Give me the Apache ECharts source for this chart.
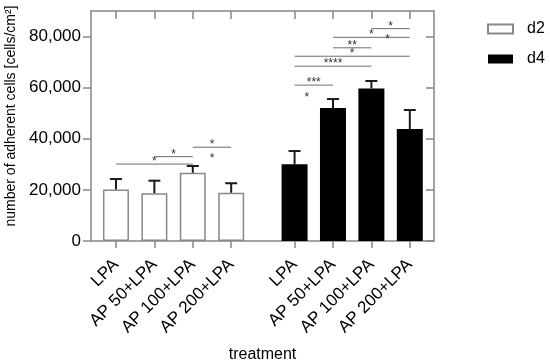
<!DOCTYPE html>
<html><head><meta charset="utf-8">
<script src="https://cdn.jsdelivr.net/npm/echarts@6/dist/echarts.min.js"></script>
<style>html,body{margin:0;padding:0;background:#fff}#c{width:550px;height:363px}</style>
</head><body><div id="c"></div>
<script>
const categories = ['LPA', 'AP 50+LPA', 'AP 100+LPA', 'AP 200+LPA'];
const groups = ['d2', 'd4'];
const d2Mean = [20200, 18700, 26700, 18900];
const d2Err = [4050, 4900, 2650, 3700];
const d4Mean = [30000, 52000, 59700, 43800];
const d4Err = [5200, 3550, 2900, 7450];
const yTicks = [0, 20000, 40000, 60000, 80000];
// significance brackets: [group, fromIndex, toIndex, yValue, label]
const brackets = [
  ['d2', 0, 2, 30100, '*'],
  ['d2', 1, 2, 33000, '*'],
  ['d2', 2, 3, 36700, '*'],
  ['d4', 2, 3, 83100, '*'],
  ['d4', 1, 3, 79700, '*'],
  ['d4', 1, 2, 75600, '**'],
  ['d4', 0, 3, 72300, '*'],
  ['d4', 0, 2, 68400, '****'],
  ['d4', 0, 1, 61000, '***']
];
// extra stars: [group, fractional index, yValue, label]
const looseStars = [
  ['d2', 2.5, 33300, '*'],
  ['d4', 2.42, 79600, '*'],
  ['d4', 0.32, 57000, '*']
];

const GROUP_OFFSET = 4.65;
const FONT = 'Liberation Sans, Arial, sans-serif';
const AXIS_COLOR = '#868686';
const pos = (g, i) => groups.indexOf(g) * GROUP_OFFSET + i;
const tickPos = [];
groups.forEach(g => categories.forEach((c, i) => tickPos.push(pos(g, i))));
const labelFor = v => {
  for (let k = 0; k < tickPos.length; k++) {
    if (Math.abs(tickPos[k] - v) < 0.01) return categories[k % categories.length];
  }
  return '';
};

const errData = [];
d2Mean.forEach((m, i) => errData.push([pos('d2', i), m, m + d2Err[i]]));
d4Mean.forEach((m, i) => errData.push([pos('d4', i), m, m + d4Err[i]]));

const bracketData = brackets.map(b => [pos(b[0], b[1]), pos(b[0], b[2]), b[3], b[4]]);
const starData = looseStars.map(s => [pos(s[0], s[1]), s[2], s[3]]);

const chart = echarts.init(document.getElementById('c'), null, {renderer: 'canvas'});
const xMin = -0.65, xMax = 8.28;
const lineSt = {color: AXIS_COLOR, width: 1.5};
chart.setOption({
  animation: false,
  backgroundColor: '#fff',
  textStyle: {fontFamily: FONT},
  grid: {left: 91, right: 116, top: 11, bottom: 122, containLabel: false, outerBoundsMode: 'none'},
  legend: {
    orient: 'vertical', left: 487, top: 21, padding: 0, itemGap: 14,
    itemWidth: 25, itemHeight: 9, icon: 'rect',
    textStyle: {fontSize: 16, color: '#000', fontFamily: FONT, padding: [0, 0, 0, 9]},
    data: ['d2', 'd4']
  },
  xAxis: [{
    type: 'value', min: xMin, max: xMax, position: 'bottom',
    name: 'treatment', nameLocation: 'middle', nameGap: 106,
    nameTextStyle: {fontSize: 16, color: '#000', fontFamily: FONT},
    axisLine: {show: true, onZero: false, lineStyle: lineSt},
    axisTick: {show: true, length: 7, customValues: tickPos, lineStyle: lineSt},
    axisLabel: {customValues: tickPos, rotate: 45, margin: 21, fontSize: 17, color: '#000', fontFamily: FONT, formatter: v => labelFor(v)},
    splitLine: {show: false}
  }, {
    type: 'value', min: xMin, max: xMax, position: 'top',
    axisLine: {show: true, onZero: false, lineStyle: lineSt},
    axisTick: {show: true, inside: true, length: 8, customValues: tickPos, lineStyle: lineSt},
    axisLabel: {show: false},
    splitLine: {show: false}
  }],
  yAxis: [{
    type: 'value', min: 0, max: 90000, interval: 10000, position: 'left',
    name: 'number of adherent cells [cells/cm²]', nameLocation: 'middle', nameGap: 70,
    nameTextStyle: {fontSize: 14, color: '#000', fontFamily: FONT, padding: [0, 0, 0, 20]},
    axisLine: {show: true, onZero: false, lineStyle: lineSt},
    axisTick: {show: true, length: 8, customValues: yTicks, lineStyle: lineSt},
    axisLabel: {customValues: yTicks, margin: 10, fontSize: 17, color: '#000', fontFamily: FONT,
      formatter: v => v.toLocaleString('en-US')},
    splitLine: {show: false}
  }, {
    type: 'value', min: 0, max: 90000, interval: 10000, position: 'right',
    axisLine: {show: true, onZero: false, lineStyle: lineSt},
    axisTick: {show: true, inside: true, length: 8, customValues: yTicks, lineStyle: lineSt},
    axisLabel: {show: false},
    splitLine: {show: false}
  }],
  series: [{
    name: 'd2', type: 'bar', barWidth: 26, barGap: '-100%',
    itemStyle: {color: '#fff', borderColor: '#888', borderWidth: 1.5},
    data: d2Mean.map((m, i) => [pos('d2', i), m]), z: 2
  }, {
    name: 'd4', type: 'bar', barWidth: 26, barGap: '-100%',
    itemStyle: {color: '#000', borderColor: '#000', borderWidth: 0},
    data: d4Mean.map((m, i) => [pos('d4', i), m]), z: 2
  }, {
    type: 'custom', z: 3, clip: false,
    data: errData,
    renderItem: (params, api) => {
      const p0 = api.coord([api.value(0), api.value(1)]);
      const p1 = api.coord([api.value(0), api.value(2)]);
      const st = {stroke: '#1a1a1a', lineWidth: 2};
      return {type: 'group', children: [
        {type: 'line', shape: {x1: p0[0], y1: p0[1], x2: p1[0], y2: p1[1]}, style: st},
        {type: 'line', shape: {x1: p1[0] - 6, y1: p1[1], x2: p1[0] + 6, y2: p1[1]}, style: st}
      ]};
    }
  }, {
    type: 'custom', z: 3, clip: false,
    data: bracketData,
    renderItem: (params, api) => {
      const a = api.coord([api.value(0), api.value(2)]);
      const b = api.coord([api.value(1), api.value(2)]);
      const label = bracketData[params.dataIndex][3];
      return {type: 'group', children: [
        {type: 'line', shape: {x1: a[0], y1: a[1], x2: b[0], y2: b[1]}, style: {stroke: '#6e6e6e', lineWidth: 1}},
        {type: 'text', x: (a[0] + b[0]) / 2, y: a[1] - 2.2,
          style: {text: label, fontSize: 12, fontFamily: FONT, fill: '#333', align: 'center', verticalAlign: 'middle'}}
      ]};
    }
  }, {
    type: 'custom', z: 3, clip: false,
    data: starData,
    renderItem: (params, api) => {
      const p = api.coord([api.value(0), api.value(1)]);
      return {type: 'text', x: p[0], y: p[1] + 2.3,
        style: {text: starData[params.dataIndex][2], fontSize: 12, fontFamily: FONT, fill: '#333', align: 'center', verticalAlign: 'middle'}};
    }
  }]
});
</script></body></html>
